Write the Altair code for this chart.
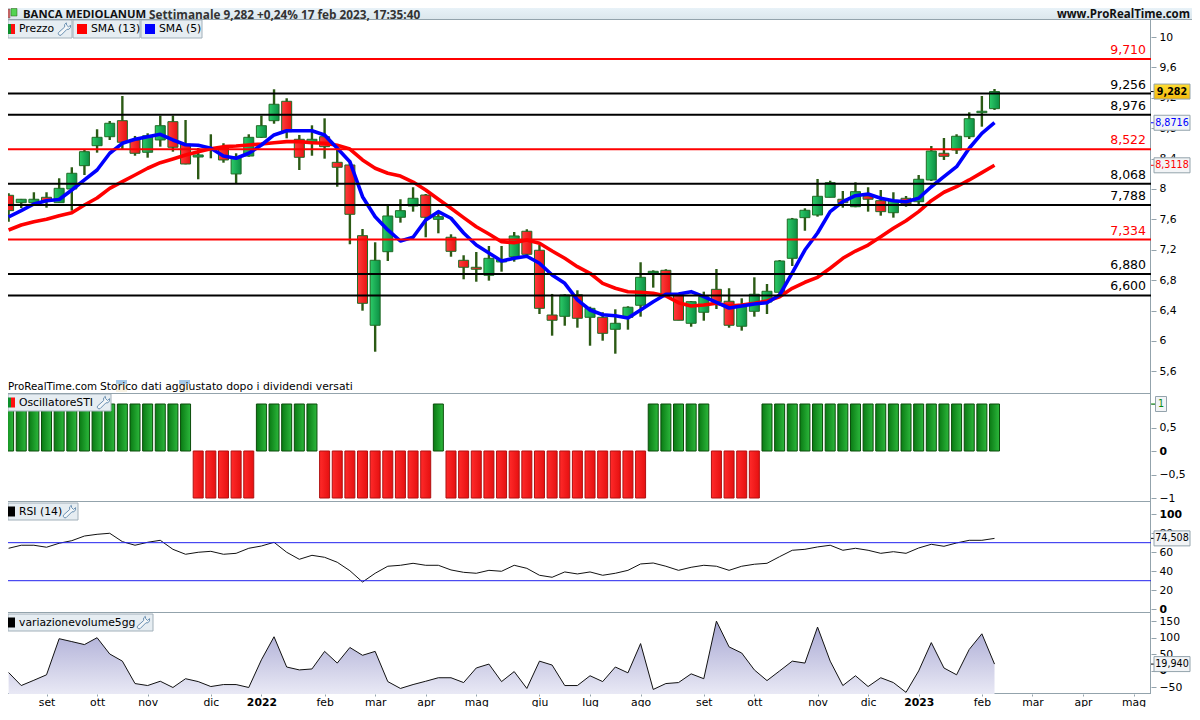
import altair as alt
import pandas as pd

FONT = "DejaVu Sans"
BOLD = "Open Sans"
FS = 10.8
opens = [7.917,7.820,7.820,7.891,7.820,8.000,8.307,8.570,8.688,8.899,8.645,8.483,8.645,8.886,8.592,8.421,8.513,8.540,8.198,8.434,8.680,8.899,9.154,8.654,8.619,8.688,8.351,8.316,7.386,6.207,7.175,7.628,7.776,7.921,7.601,7.365,7.062,6.970,6.865,7.040,7.109,7.444,7.194,6.342,6.325,6.609,6.312,6.312,6.154,6.312,6.470,6.895,6.930,6.605,6.233,6.378,6.680,6.523,6.194,6.391,6.513,6.641,7.088,7.623,7.658,7.891,7.865,7.767,7.908,7.846,7.688,7.878,7.833,8.119,8.470,8.513,8.688,9.004,9.057]
closes = [7.715,7.865,7.865,7.846,8.009,8.207,8.491,8.680,8.865,8.615,8.470,8.701,8.833,8.549,8.329,8.448,8.540,8.382,8.425,8.680,8.833,9.115,8.754,8.417,8.654,8.557,8.286,7.667,6.496,7.062,7.645,7.715,7.878,7.628,7.636,7.180,6.970,6.944,7.088,7.066,7.382,7.141,6.430,6.273,6.605,6.299,6.430,6.101,6.233,6.444,6.838,6.917,6.605,6.273,6.517,6.583,6.517,6.207,6.451,6.615,6.654,7.053,7.605,7.720,7.904,8.083,7.820,7.965,7.865,7.702,7.846,7.803,8.128,8.500,8.430,8.694,8.925,9.023,9.282]
highs = [7.944,7.869,7.957,7.957,8.141,8.286,8.513,8.786,8.895,9.224,8.698,8.733,8.965,8.965,8.908,8.540,8.720,8.602,8.470,8.720,8.965,9.312,9.194,8.711,8.838,8.930,8.588,8.382,7.474,7.299,7.776,7.865,8.023,7.934,7.711,7.404,7.128,7.171,7.250,7.250,7.434,7.470,7.263,6.619,6.615,6.667,6.451,6.378,6.417,6.457,7.036,6.930,6.944,6.605,6.526,6.649,6.947,6.694,6.562,6.838,6.750,7.066,7.619,7.746,8.132,8.109,7.974,8.088,8.023,7.987,7.957,7.908,8.184,8.566,8.671,8.720,9.009,9.224,9.316]
lows = [7.570,7.750,7.820,7.754,7.820,7.715,8.184,8.478,8.645,8.526,8.438,8.412,8.557,8.491,8.325,8.128,8.404,8.346,8.075,8.425,8.671,8.859,8.667,8.250,8.438,8.399,8.030,7.273,6.399,5.859,7.053,7.557,7.702,7.365,7.417,7.109,6.812,6.780,6.794,6.912,7.044,7.105,6.355,6.070,6.201,6.175,5.938,6.004,5.833,6.149,6.320,6.702,6.605,6.273,6.188,6.267,6.421,6.175,6.136,6.320,6.355,6.583,6.987,7.451,7.636,7.891,7.754,7.760,7.702,7.649,7.623,7.767,7.803,8.105,8.382,8.461,8.658,8.820,9.040]
sma5 = [7.632,7.715,7.803,7.846,7.862,7.987,8.119,8.250,8.470,8.601,8.654,8.688,8.720,8.645,8.583,8.575,8.536,8.434,8.404,8.470,8.579,8.711,8.767,8.767,8.767,8.711,8.536,8.359,7.899,7.636,7.461,7.316,7.365,7.592,7.702,7.615,7.421,7.263,7.158,7.053,7.088,7.115,7.023,6.869,6.759,6.540,6.408,6.346,6.333,6.303,6.408,6.517,6.615,6.619,6.649,6.583,6.509,6.434,6.461,6.487,6.504,6.605,6.895,7.197,7.421,7.702,7.833,7.912,7.934,7.878,7.846,7.833,7.878,8.030,8.162,8.294,8.536,8.733,8.872]
sma13 = [7.461,7.526,7.570,7.601,7.649,7.688,7.790,7.882,8.009,8.096,8.184,8.273,8.346,8.395,8.448,8.491,8.530,8.557,8.566,8.579,8.592,8.609,8.623,8.623,8.609,8.601,8.575,8.526,8.382,8.273,8.207,8.171,8.092,7.987,7.865,7.746,7.623,7.504,7.408,7.307,7.294,7.329,7.286,7.184,7.088,6.978,6.891,6.759,6.694,6.649,6.641,6.628,6.592,6.504,6.461,6.474,6.496,6.461,6.474,6.496,6.526,6.583,6.694,6.773,6.838,6.957,7.088,7.184,7.263,7.373,7.483,7.583,7.702,7.846,7.957,8.030,8.119,8.215,8.312]
osc = [1]*15 + [-1]*5 + [1]*5 + [-1]*9 + [1] + [-1]*16 + [1]*5 + [-1]*4 + [1]*19
rsi = [64.1,67.3,67.3,65.2,69.4,72.1,77,78.8,79.9,71.1,67.3,70.4,72.5,63,57.8,59.9,60.9,57.8,58.8,64.1,66.5,70.4,59.9,52.5,56.7,54.6,49.4,40.5,28.6,37.8,45.2,46.2,48.3,46.2,46.2,41.3,38.8,37.8,40.9,39.9,46.2,43,35.7,33.6,39.2,37.1,39.2,35.7,37.8,40.9,47.6,48.6,45.2,40.9,44.1,46.2,45.2,40.9,45.2,47.3,48.3,55.3,62,63,65.5,67.3,62,64.1,62,58.8,60.5,58.8,64.4,68.3,66.2,69.7,72.5,72.5,74.508]
vol = [-5.6,-45,-29,-12.5,96.8,88,79,99.8,50.5,28.9,-39,-45,-32,-50.9,-24.3,-33,-48,-42,-42,-50.9,32.8,102.7,11.1,2.3,5.2,58.4,23,70.2,46.6,58.4,-33,-53.8,-42,-32,-21.4,-21.4,-36,8.2,20,-33,-2.7,-53.8,28.9,17,-45,-45,-15.4,-33,11.1,-6.6,82,-56.8,-39,-36,-9.6,-24.3,150,72,53.5,2.3,-30,-0.7,28.9,23,132,28.9,-45,-15.4,-48,-21.4,-36,-65.6,-0.7,85,8.2,-12.5,64.3,111.6,19.94]
level_vals = [9.710,9.256,8.976,8.522,8.068,7.788,7.334,6.880,6.600]
level_text = ["9,710","9,256","8,976","8,522","8,068","7,788","7,334","6,880","6,600"]
level_col = ["#ff0000","#000000","#000000","#ff0000","#000000","#000000","#ff0000","#000000","#000000"]
month_ticks = ["2021-09-06","2021-10-04","2021-11-01","2021-12-06","2022-01-03","2022-02-07","2022-03-07","2022-04-04","2022-05-02","2022-06-06","2022-07-04","2022-08-01","2022-09-05","2022-10-03","2022-11-07","2022-12-05","2023-01-02","2023-02-06","2023-03-06","2023-04-03","2023-05-01"]

dates = pd.date_range("2021-08-16", periods=79, freq="7D").strftime("%Y-%m-%d").tolist()
df = pd.DataFrame(dict(date=dates, open=opens, close=closes, high=highs, low=lows, sma5=sma5, sma13=sma13, osc=osc, rsi=rsi, vol=vol))
one = pd.DataFrame({"a": [0]})
lv = pd.DataFrame(dict(v=level_vals, t=level_text, c=level_col))

W = 1143; H_MAIN = 374; H_OSC = 108; H_RSI = 111; H_VOL = 81
HEAD_W = 1184
GRAY = "#93a3ac"
xscale = alt.Scale(type="utc", domain=["2021-08-15T16:00:00Z", "2023-05-10T16:00:00Z"], padding=0)
X = alt.X("date:T", scale=xscale, axis=None)
ymain = alt.Scale(domain=[5.3026, 10.2237], nice=False, zero=False)
yosc = alt.Scale(domain=[-1.085, 1.2128], nice=False, zero=False)
yrsi = alt.Scale(domain=[-4.0, 112.8], nice=False, zero=False)
VOL_MIN = -70.6
yvol = alt.Scale(domain=[VOL_MIN, 174.6], nice=False, zero=False)

def grad_h(a, b):
    return alt.LinearGradient(gradient="linear", x1=0, x2=1, y1=0, y2=0,
                              stops=[alt.GradientStop(offset=0, color=a), alt.GradientStop(offset=1, color=b)])
def grad_v(a, b):
    return alt.LinearGradient(gradient="linear", x1=0, x2=0, y1=0, y2=1,
                              stops=[alt.GradientStop(offset=0, color=a), alt.GradientStop(offset=1, color=b)])

def yaxis(vals, bold_test):
    return alt.Axis(orient="right", values=vals, title=None, grid=False, domain=False,
                    tickSize=5, tickColor=GRAY, labelColor="#000000", labelFont=FONT, labelFontSize=FS,
                    labelPadding=3, labelOverlap=False, labelFlush=False,
                    labelFontWeight={"condition": {"test": bold_test, "value": "bold"}, "value": "normal"},
                    labelExpr="replace(replace(format(datum.value,'.2~f'),'.',','),'-','\u2212')")

WRENCH = "M0.35,-0.95 L0.1,-0.7 L0.1,-0.3 L-0.85,0.55 A0.3,0.3 0 0 0 -0.45,0.95 L0.45,0.05 L0.75,0.05 L1,-0.25 L1,-0.6 L0.7,-0.3 L0.4,-0.6 Z"

def box(x0, x1, y0, y1, **mk):
    return alt.Chart(one).mark_rect(clip=True, **mk).encode(x=alt.value(x0), x2=alt.value(x1), y=alt.value(y0), y2=alt.value(y1))
def label(x, y, s, **mk):
    opts = dict(font=FONT, fontSize=FS, align="left", baseline="middle", color="#000000")
    opts.update(mk)
    return alt.Chart(one).mark_text(**opts).encode(x=alt.value(x), y=alt.value(y), text=alt.value(s))
def wrench(x, y):
    return alt.Chart(one).mark_point(shape=WRENCH, size=170, fill="#f4f7f9", filled=True, stroke="#6a90b2", strokeWidth=1, opacity=1).encode(x=alt.value(x), y=alt.value(y))

def frame(h):
    return [alt.Chart(one).mark_rule(clip=True, color=GRAY, strokeWidth=1).encode(x=alt.value(0), x2=alt.value(W), y=alt.value(h - 0.5)),
            alt.Chart(one).mark_rule(clip=True, color=GRAY, strokeWidth=1).encode(x=alt.value(W - 0.5), y=alt.value(0), y2=alt.value(h))]

def tag(text, right, top, h, wrench_x, colors):
    cy = top + h / 2
    out = [box(0, right, top, top + h, fill="#e6edf2", stroke="#a2b0ba", strokeWidth=1)]
    if len(colors) == 2:
        out += [box(0, 3, cy - 5, cy + 5, fill=colors[0]), box(3, 7, cy - 5, cy + 5, fill=colors[1])]
    else:
        out += [box(0, 7, cy - 5, cy + 5, fill=colors[0])]
    out += [label(11, cy, text), wrench(wrench_x, cy)]
    return out

def value_tag(field_val, text, scale, ax, w, color, fill="#f2f4f6", bold=False, center=None):
    d = pd.DataFrame({"v": [field_val], "t": [text]})
    y = alt.Y("v:Q", scale=scale, axis=ax)
    rect = alt.Chart(d).mark_rect(width=w, height=15, fill=fill, stroke=GRAY, strokeWidth=1).encode(x=alt.value(center), y=y)
    tick = alt.Chart(d).mark_rule(color=color, strokeWidth=1).encode(x=alt.value(W), x2=alt.value(W + 5), y=y)
    txt = alt.Chart(d).mark_text(font=FONT, fontSize=9.6, color=color, fontWeight="bold" if bold else "normal",
                                 align="center", baseline="middle").encode(x=alt.value(center), y=y, text="t:N")
    return [tick, rect, txt]

# header
header = alt.layer(
    box(0, HEAD_W, 0, 12, fill=grad_v("#e8f2f8", "#dbe6ec")),
    box(0, HEAD_W, 11, 12, fill=GRAY),
    box(0, 2, 1, 10, fill="#e86a6a", stroke="#555555", strokeWidth=0.5),
    box(3, 9, 0.5, 8, fill="#52d452", stroke="#2b5a14", strokeWidth=0.5),
    label(15, 6.5, "BANCA MEDIOLANUM", font=BOLD, fontWeight="bold", fontSize=11.3, color="#111111"),
    label(141, 6.5, "Settimanale 9,282 +0,24% 17 feb 2023, 17:35:40", font=BOLD, fontWeight="bold", fontSize=11.8, color="#333333"),
    label(HEAD_W - 2, 6.5, "www.ProRealTime.com", font=BOLD, fontWeight="bold", fontSize=11.5, align="right", color="#111111"),
).properties(width=HEAD_W, height=12)

# main panel
base = alt.Chart(df)
green = "datum.close >= datum.open"
red = "datum.close < datum.open"
ax_main = yaxis([10, 9.6, 9.2, 8.8, 8.4, 8, 7.6, 7.2, 6.8, 6.4, 6, 5.6], "false")
wicks = base.mark_rule(color="#2b5a14", strokeWidth=2.4, clip=True).encode(
    x=X, y=alt.Y("low:Q", scale=ymain, axis=ax_main), y2="high:Q")
bodies_g = base.transform_filter(green).mark_bar(width=10, fill=grad_h("#2ccb68", "#0c8f44"), stroke="#1f6b25", strokeWidth=1, clip=True).encode(
    x=X, y=alt.Y("open:Q", scale=ymain, axis=ax_main), y2="close:Q")
bodies_r = base.transform_filter(red).mark_bar(width=10, fill=grad_h("#ff3c3c", "#e81212"), stroke="#1f6b25", strokeWidth=1, clip=True).encode(
    x=X, y=alt.Y("open:Q", scale=ymain, axis=ax_main), y2="close:Q")
l13 = base.mark_line(color="#ff0000", strokeWidth=3.6, strokeJoin="round", clip=True).encode(x=X, y=alt.Y("sma13:Q", scale=ymain, axis=ax_main))
l5 = base.mark_line(color="#0000ff", strokeWidth=3.6, strokeJoin="round", clip=True).encode(x=X, y=alt.Y("sma5:Q", scale=ymain, axis=ax_main))
levels = alt.Chart(lv).mark_rule(strokeWidth=2, clip=True).encode(y=alt.Y("v:Q", scale=ymain, axis=ax_main), color=alt.Color("c:N", scale=None))
level_labels = alt.Chart(lv).mark_text(font=FONT, fontSize=12.5, align="right", baseline="middle", dy=-9).encode(
    x=alt.value(1138), y=alt.Y("v:Q", scale=ymain, axis=ax_main), text="t:N", color=alt.Color("c:N", scale=None))

main_layers = frame(H_MAIN) + [wicks, bodies_g, bodies_r, l13, l5, levels, level_labels]
main_layers += tag("Prezzo", 64, 0, 18, 56, ["#0c8f2c", "#ff1010"])
main_layers += [box(65, 132, 0, 18, fill="#e6edf2", stroke="#a2b0ba", strokeWidth=1), box(69, 79, 4, 14, fill="#ff0000"), label(83, 9, "SMA (13)"),
                box(133, 194, 0, 18, fill="#e6edf2", stroke="#a2b0ba", strokeWidth=1), box(137, 147, 4, 14, fill="#0000ff"), label(151, 9, "SMA (5)")]
main_layers += [box(108, 119, 360, 372, fill="#f6efdc", opacity=0.8), box(108, 119, 360, 364, fill="#9cc4e8", opacity=0.9),
                box(171, 182, 360, 372, fill="#f6efdc", opacity=0.8), box(171, 182, 360, 364, fill="#9cc4e8", opacity=0.9),
                label(0, 367, "ProRealTime.com", fontSize=10.3), label(92, 367, "Storico dati aggiustato dopo i dividendi versati")]
main_layers += value_tag(9.282, "9,282", ymain, ax_main, 36, "#000000", fill=grad_v("#ffdc33", "#f2b90c"), bold=True, center=1164)
main_layers += value_tag(8.8716, "8,8716", ymain, ax_main, 36, "#0000ff", center=1164)
main_layers += value_tag(8.3118, "8,3118", ymain, ax_main, 36, "#ff0000", center=1164)
main = alt.layer(*main_layers).properties(width=W, height=H_MAIN)

# oscillator
ax_osc = yaxis([1, 0.5, 0, -0.5, -1], "datum.value==0")
osc_y = alt.Y("osc:Q", scale=yosc, axis=ax_osc)
osc_g = base.transform_filter("datum.osc > 0").mark_bar(width=10, fill=grad_h("#0a7a14", "#2cb83c"), stroke="#0a4d0a", strokeWidth=1, clip=True).encode(
    x=X, y=osc_y, y2=alt.Y2(datum=0))
osc_r = base.transform_filter("datum.osc < 0").mark_bar(width=10, fill=grad_h("#ff2a2a", "#e61010"), stroke="#b01010", strokeWidth=1, clip=True).encode(
    x=X, y=osc_y, y2=alt.Y2(datum=0))
osc_layers = frame(H_OSC) + [osc_g, osc_r] + tag("OscillatoreSTI", 103, 0, 17, 95, ["#0c8f2c", "#ff1010"])
osc_layers += value_tag(1, "1", yosc, ax_osc, 11, "#0a8a0a", center=1153)
osc_panel = alt.layer(*osc_layers).properties(width=W, height=H_OSC)

# RSI
ax_rsi = yaxis([100, 80, 60, 40, 20, 0], "datum.value==0 || datum.value==100")
rsi_line = base.mark_line(color="#111111", strokeWidth=1, clip=True).encode(x=X, y=alt.Y("rsi:Q", scale=yrsi, axis=ax_rsi))
rsi_rules = alt.Chart(pd.DataFrame({"v": [70, 30]})).mark_rule(color="#2222ee", strokeWidth=1, clip=True).encode(y=alt.Y("v:Q", scale=yrsi, axis=ax_rsi))
rsi_layers = frame(H_RSI) + [rsi_line, rsi_rules] + tag("RSI (14)", 70, 1, 17, 61, ["#000000"])
rsi_layers += value_tag(74.508, "74,508", yrsi, ax_rsi, 36, "#000000", center=1164)
rsi_panel = alt.layer(*rsi_layers).properties(width=W, height=H_RSI)

# volume
month_labels = "['gen','feb','mar','apr','mag','giu','lug','ago','set','ott','nov','dic'][utcmonth(datum.value)]"
year_test = "utcmonth(datum.value)==0"
xaxis = alt.Axis(values=month_ticks, title=None, grid=False, domain=False, tickSize=2, tickColor=GRAY,
                 labelColor="#000000", labelFont=FONT, labelPadding=0, labelOverlap=False, labelFlush=False,
                 labelFontSize=FS,
                 labelFontWeight={"condition": {"test": year_test, "value": "bold"}, "value": "normal"},
                 labelExpr=year_test + " ? utcyear(datum.value)+'' : " + month_labels)
X_VOL = alt.X("date:T", scale=xscale, axis=xaxis)
ax_vol = yaxis([150, 100, 50, 0, -50], "datum.value==0")
vol_area = base.mark_area(fill=grad_v("#a6a6d2", "#e9e9f5"), clip=True).encode(
    x=X_VOL, y=alt.Y("vol:Q", scale=yvol, axis=ax_vol), y2=alt.Y2(datum=VOL_MIN))
vol_line = base.mark_line(color="#111111", strokeWidth=1, clip=True).encode(x=X_VOL, y=alt.Y("vol:Q", scale=yvol, axis=ax_vol))
vol_layers = frame(H_VOL) + [vol_area, vol_line] + tag("variazionevolume5gg", 145, 1, 17, 135, ["#000000"])
vol_layers += value_tag(19.94, "19,940", yvol, ax_vol, 36, "#000000", center=1164)
vol_panel = alt.layer(*vol_layers).properties(width=W, height=H_VOL)

chart = alt.vconcat(header, main, osc_panel, rsi_panel, vol_panel, spacing=0, padding=0, bounds="flush").configure_view(stroke=None).configure_concat(spacing=0)
chart.save("out.html", embed_options={"renderer": "svg", "actions": False})
